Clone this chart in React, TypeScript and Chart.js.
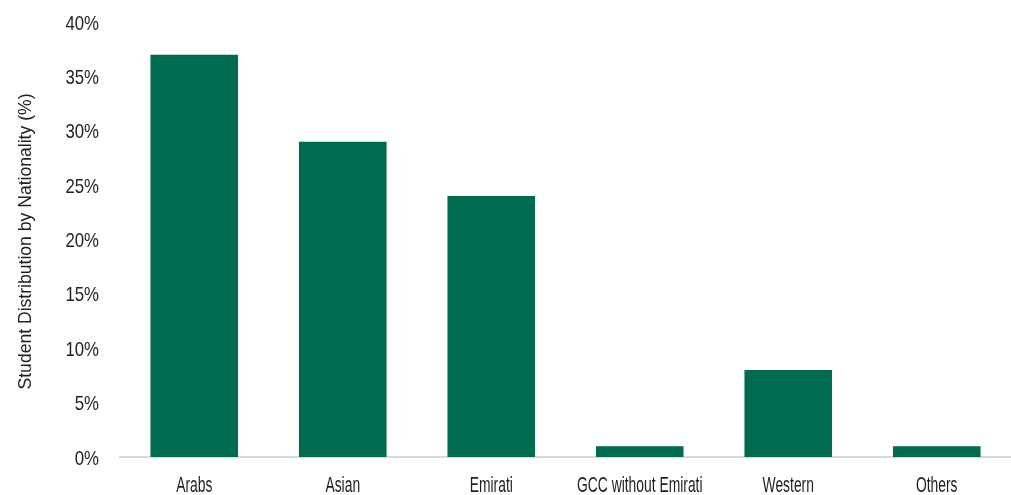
import React, { useEffect, useRef } from "react";
import { Chart, registerables } from "chart.js";

Chart.register(...registerables);

const categories = ["Arabs", "Asian", "Emirati", "GCC without Emirati", "Western", "Others"];
const shares = [37, 29, 24, 1, 8, 1];
const yTicks = [0, 5, 10, 15, 20, 25, 30, 35, 40];
const yTitle = "Student Distribution by Nationality (%)";

const FONT = "'Liberation Sans', Arial, sans-serif";
const TEXT = "#1f1f1f";

// draws the axis text in a condensed (horizontally squeezed) style
const narrowText = {
  id: "narrowText",
  afterDraw(chart: any) {
    const ctx = chart.ctx as CanvasRenderingContext2D;
    const xs = chart.scales.x;
    const ys = chart.scales.y;
    ctx.save();
    ctx.fillStyle = TEXT;

    // y tick labels
    ctx.font = `21px ${FONT}`;
    ctx.textAlign = "right";
    ctx.textBaseline = "alphabetic";
    yTicks.forEach((v) => {
      const py = ys.getPixelForValue(v);
      ctx.save();
      ctx.translate(99, py + 7.5);
      ctx.scale(0.8, 1);
      ctx.fillText(v + "%", 0, 0);
      ctx.restore();
    });

    // x tick labels
    ctx.font = `22px ${FONT}`;
    ctx.textAlign = "center";
    categories.forEach((c, i) => {
      const px = xs.getPixelForTick(i);
      ctx.save();
      ctx.translate(px, 492);
      ctx.scale(0.63, 1);
      ctx.fillText(c, 0, 0);
      ctx.restore();
    });

    // y title
    ctx.font = `19px ${FONT}`;
    const w = ctx.measureText(yTitle).width;
    const sx = 296 / w;
    ctx.save();
    ctx.translate(31, (ys.top + ys.bottom) / 2 + 2);
    ctx.rotate(-Math.PI / 2);
    ctx.scale(sx, 1);
    ctx.textAlign = "center";
    ctx.fillText(yTitle, 0, 0);
    ctx.restore();

    ctx.restore();
  },
};

export default function App() {
  const ref = useRef<HTMLCanvasElement>(null);
  useEffect(() => {
    if (!ref.current) return;
    const chart = new Chart(ref.current, {
      type: "bar",
      data: {
        labels: categories,
        datasets: [
          {
            data: shares,
            backgroundColor: "#006B4F",
            categoryPercentage: 1,
            barPercentage: 0.59,
          },
        ],
      },
      options: {
        animation: false,
        responsive: false,
        maintainAspectRatio: false,
        layout: { padding: { left: 0, right: 0, top: 22, bottom: 0 } },
        plugins: { legend: { display: false }, tooltip: { enabled: false } },
        scales: {
          x: {
            grid: { display: false, drawTicks: false },
            border: { display: true, color: "#D9D9D9", width: 2 },
            ticks: { display: false },
            afterFit: (s: any) => {
              s.height = 38;
            },
          },
          y: {
            min: 0,
            max: 40,
            afterBuildTicks: (axis: any) => {
              axis.ticks = yTicks.map((v) => ({ value: v }));
            },
            grid: { display: false, drawTicks: false },
            border: { display: false },
            ticks: { display: false },
            afterFit: (s: any) => {
              s.width = 120;
            },
          },
        },
      },
      plugins: [narrowText],
    });
    return () => chart.destroy();
  }, []);
  return (
    <div style={{ position: "absolute", left: 0, top: 0, width: 1011, height: 495, background: "#fff" }}>
      <canvas ref={ref} width={1011} height={495} />
    </div>
  );
}
